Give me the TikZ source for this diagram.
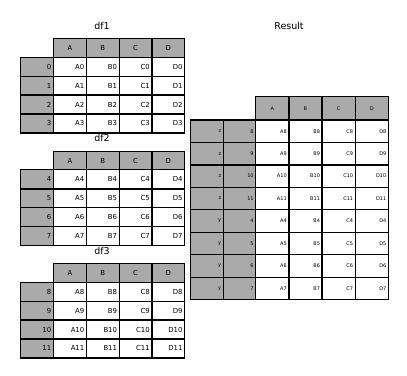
\documentclass[tikz,border=0pt]{standalone}
\usepackage{fontspec}
\setmainfont{DejaVu Sans}
\definecolor{hgray}{HTML}{AAAAAA}
\begin{document}
\begin{tikzpicture}[x=1pt,y=-1pt]
\useasboundingbox (0,0) rectangle (407,375);
\tikzset{
  cellbase/.style={draw=black, line width=1.3pt, inner sep=0pt, anchor=north west,
    minimum width=32.75pt, minimum height=18.9pt, font=\fontsize{6.9}{7.5}\selectfont},
  hdr/.style={cellbase, fill=hgray},
  idx/.style={cellbase, fill=hgray, text width=28.5pt, align=right},
  dat/.style={cellbase, fill=white, text width=28.5pt, align=right},
  rbase/.style={draw=black, line width=1.3pt, inner sep=0pt, anchor=north west,
    minimum width=33.2pt, minimum height=22.46pt, font=\fontsize{5}{5.5}\selectfont},
  rhdr/.style={rbase, fill=hgray, minimum height=23.3pt},
  ridx/.style={rbase, fill=hgray, minimum width=32.5pt, text width=28.5pt, align=right},
  rdat/.style={rbase, fill=white, text width=29pt, align=right},
  ttl/.style={font=\fontsize{9.5}{10}\selectfont, inner sep=0pt}
}
% left tables
\foreach \t/\Y/\fst in {1/38/0, 2/150.5/4, 3/263/8} {
  \node[ttl] (t\t) at (102,\Y-12.5) {df\t};
  \foreach \cl [count=\k from 0] in {A,B,C,D}
    \node[hdr] (h\t\cl) at ({53+32.75*\k},\Y) {\cl};
  \foreach \r in {0,...,3} {
    \pgfmathtruncatemacro\n{\fst+\r}
    \node[idx] (i\n) at (20,{\Y+18.6+18.9*\r}) {\n};
    \foreach \cl [count=\k from 0] in {A,B,C,D}
      \node[dat] (c\cl\n) at ({53+32.75*\k},{\Y+18.6+18.9*\r}) {\cl\n};
  }
}
\draw[line width=2pt] (i4.south west) -- (cD4.south east);
% result
\node[ttl] (tr) at (289,26) {Result};
\foreach \cl [count=\k from 0] in {A,B,C,D}
  \node[rhdr] (rh\cl) at ({255+33.2*\k},96) {\cl};
\foreach \n/\key [count=\r from 0] in {8/z,9/z,10/z,11/z,4/y,5/y,6/y,7/y} {
  \node[ridx] (rk\n) at (190,{119.3+22.46*\r}) {\key};
  \node[ridx] (ri\n) at (222.5,{119.3+22.46*\r}) {\n};
  \foreach \cl [count=\k from 0] in {A,B,C,D}
    \node[rdat] (rc\cl\n) at ({255+33.2*\k},{119.3+22.46*\r}) {\cl\n};
}
\end{tikzpicture}
\end{document}
